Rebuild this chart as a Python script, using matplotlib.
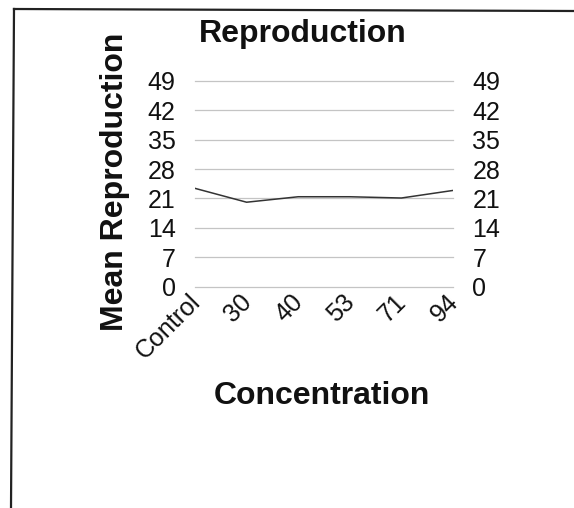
import matplotlib.pyplot as plt
import matplotlib.transforms as mtransforms
from matplotlib.lines import Line2D

plt.rcParams["font.family"] = ["Liberation Sans", "DejaVu Sans"]

# values
concentrations = ["Control", "30", "40", "53", "71", "94"]
mean_reproduction = [23.4, 20.1, 21.4, 21.4, 21.1, 22.9]
y_ticks = [0, 7, 14, 21, 28, 35, 42, 49]

fig = plt.figure(figsize=(5.74, 5.08), dpi=100)
ax = fig.add_axes([0.3397, 0.4356, 0.4495, 0.4055])

ax.plot(range(len(concentrations)), mean_reproduction, color="#333333", lw=1.1)

ax.set_xlim(0, len(concentrations) - 1)
ax.set_ylim(0, 49)
ax.set_yticks(y_ticks)
ax.yaxis.grid(True, color="#c4c4c4", lw=0.9)
ax.set_axisbelow(True)
for line in ax.get_ygridlines():
    line.set_clip_on(False)
for side in ax.spines.values():
    side.set_visible(False)

ax.set_xticks(range(len(concentrations)))
ax.set_xticklabels(concentrations, rotation=45, ha="right", rotation_mode="anchor")
ax.tick_params(axis="x", length=0, pad=6, labelsize=18, colors="#111111")
ax.tick_params(axis="y", length=0, pad=14, labelsize=18, colors="#111111",
               labelleft=True, labelright=True)

# nudge the rotated category labels to where the scan has them
shift = mtransforms.ScaledTranslation(-7 / 100, 5 / 100, fig.dpi_scale_trans)
for lab in ax.get_xticklabels():
    lab.set_transform(lab.get_transform() + shift)

ax.set_ylabel("Mean Reproduction", fontsize=23, fontweight="bold", color="#111111")
ax.yaxis.set_label_coords(-0.252, 0.51)

fig.text(303 / 574, 1 - 34 / 508, "Reproduction", fontsize=23, fontweight="bold",
         ha="center", va="center", color="#111111")
fig.text(322 / 574, 1 - 396 / 508, "Concentration", fontsize=23, fontweight="bold",
         ha="center", va="center", color="#111111")

# scanned page frame
fig.add_artist(Line2D([14 / 574, 1.0], [1 - 9 / 508, 1 - 11 / 508],
                      color="#222222", lw=1.6, transform=fig.transFigure))
fig.add_artist(Line2D([14 / 574, 11 / 574], [1 - 9 / 508, 0.0],
                      color="#222222", lw=1.6, transform=fig.transFigure))

fig.savefig("out.png", dpi=100)
